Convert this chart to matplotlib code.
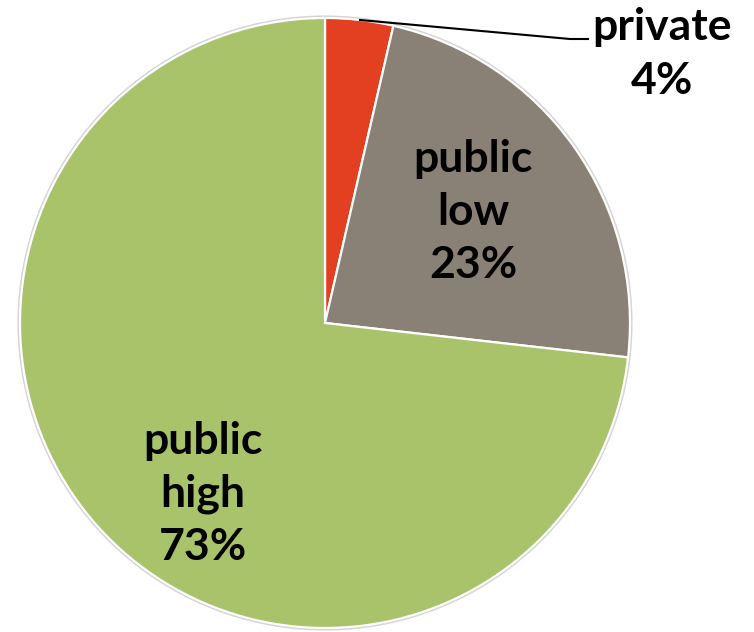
import matplotlib.pyplot as plt
from matplotlib.patches import Circle

# share of each segment, in percent
labels = ["private", "public\nlow", "public\nhigh"]
values = [3.6, 23.2, 73.2]
colors = ["#E34022", "#8A8176", "#A9C36B"]

W, H = 754, 632
fig = plt.figure(figsize=(W / 100, H / 100), dpi=100)
ax = fig.add_axes([0, 0, 1, 1])

cx, cy, r = 325, H - 323, 305

wedges, _ = ax.pie(values, colors=colors, startangle=90, counterclock=False,
                   center=(cx, cy), radius=r, frame=True,
                   wedgeprops=dict(edgecolor="white", linewidth=1.6))
ax.add_patch(Circle((cx, cy), r + 1.5, fill=False, edgecolor="#d4d4d4", linewidth=1.5, zorder=0))

font = dict(family="Lato", fontweight="bold", fontsize=32, ha="center", va="center",
            linespacing=1.4, color="black")

# label positions in pixel coordinates (y measured from the top)
pos = [(662, 54), (473, 212), (203, 494)]
for lab, v, (x, y) in zip(labels, values, pos):
    ax.text(x, H - y, f"{lab}\n{v:.0f}%", **font)

# leader line for the small slice
ax.plot([360, 570, 588], [H - 20, H - 39, H - 39], color="black", linewidth=1.5)

ax.set_xlim(0, W)
ax.set_ylim(0, H)
ax.set_aspect("equal")
ax.axis("off")

fig.savefig("out.png", dpi=100)
